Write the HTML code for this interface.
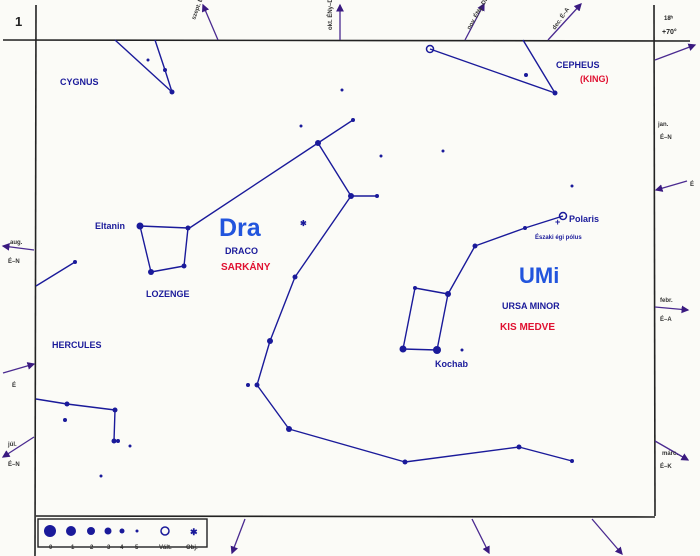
<!DOCTYPE html>
<html><head><meta charset="utf-8"><style>
html,body{margin:0;padding:0;background:#fbfbf7;}
svg{display:block;}
text{font-family:"Liberation Sans",sans-serif;font-weight:bold;}
</style></head><body>
<svg width="700" height="556" viewBox="0 0 700 556" xmlns="http://www.w3.org/2000/svg">
<rect width="700" height="556" fill="#fbfbf7"/>
<defs><marker id="a" markerWidth="6" markerHeight="6" refX="5" refY="3" orient="auto"><path d="M0,0 L6,3 L0,6 Z" fill="#3a1a80"/></marker></defs>
<g stroke="#222" stroke-width="1.6" fill="none">
<line x1="3" y1="40" x2="690" y2="41"/>
<line x1="36" y1="5" x2="35" y2="556"/>
<line x1="654" y1="5" x2="655" y2="516"/>
<line x1="36" y1="516" x2="655" y2="517"/>
<rect x="38" y="519" width="169" height="28" stroke-width="1.4"/>
</g>
<text x="15" y="26" font-size="13" fill="#222">1</text>
<text x="664" y="20" font-size="6" fill="#222">18ʰ</text>
<text x="662" y="34" font-size="7" fill="#222">+70°</text>
<g stroke="#4a2a90" stroke-width="1.3" marker-end="url(#a)">
<line x1="218" y1="40" x2="203" y2="5"/>
<line x1="340" y1="40" x2="340" y2="5"/>
<line x1="465" y1="40" x2="484" y2="4"/>
<line x1="548" y1="40" x2="581" y2="4"/>
<line x1="655" y1="60" x2="695" y2="45"/>
<line x1="687" y1="181" x2="656" y2="190"/>
<line x1="655" y1="307" x2="688" y2="310"/>
<line x1="655" y1="441" x2="688" y2="460"/>
<line x1="34" y1="250" x2="3" y2="246"/>
<line x1="3" y1="373" x2="34" y2="364"/>
<line x1="34" y1="437" x2="3" y2="457"/>
<line x1="245" y1="519" x2="232" y2="553"/>
<line x1="472" y1="519" x2="489" y2="553"/>
<line x1="592" y1="519" x2="622" y2="554"/>
</g>
<g fill="#333" font-size="6">
<text x="195" y="20" transform="rotate(-70 195 20)">szept. ÉD–DNy</text>
<text x="332" y="30" transform="rotate(-90 332 30)">okt. ÉNy–DK</text>
<text x="470" y="30" transform="rotate(-60 470 30)">nov. ÉNy–DK</text>
<text x="555" y="30" transform="rotate(-55 555 30)">dec. É–A</text>
<text x="658" y="126">jan.</text><text x="660" y="139">É–N</text>
<text x="690" y="186">É</text>
<text x="660" y="302">febr.</text><text x="660" y="321">É–A</text>
<text x="662" y="455">márc.</text><text x="660" y="468">É–K</text>
<text x="10" y="244">aug.</text><text x="8" y="263">É–N</text>
<text x="12" y="387">É</text>
<text x="8" y="446">júl.</text><text x="8" y="466">É–N</text>
</g>
<g stroke="#1a1a9a" stroke-width="1.4" fill="none" stroke-linejoin="round">
<polyline points="115,40 172,92"/>
<polyline points="155,40 165,70 172,92"/>
<polyline points="430,49 555,93 523,40"/>
<polyline points="353,120 318,143 188,229"/>
<polyline points="140,226 188,228 184,266 151,272 140,226"/>
<polyline points="318,143 351,196 377,196"/>
<polyline points="351,196 295,277 270,341 257,385 289,429 405,462 519,447 572,461"/>
<polyline points="563,216 525,228 475,246 448,294 437,350 403,349 415,288 448,294"/>
<polyline points="36,399 67,404 115,410 114,441"/>
<polyline points="75,262 36,286"/>
</g>
<g fill="#1a1a9a">
<circle cx="172" cy="92" r="2.5"/><circle cx="165" cy="70" r="2"/><circle cx="148" cy="60" r="1.5"/>
<circle cx="555" cy="93" r="2.5"/><circle cx="526" cy="75" r="2"/>
<circle cx="353" cy="120" r="2"/><circle cx="318" cy="143" r="3"/><circle cx="301" cy="126" r="1.5"/>
<circle cx="351" cy="196" r="3"/><circle cx="377" cy="196" r="2"/>
<circle cx="140" cy="226" r="3.5"/><circle cx="188" cy="228" r="2.5"/><circle cx="184" cy="266" r="2.5"/><circle cx="151" cy="272" r="3"/>
<circle cx="295" cy="277" r="2.5"/><circle cx="270" cy="341" r="3"/><circle cx="257" cy="385" r="2.5"/><circle cx="248" cy="385" r="2"/>
<circle cx="289" cy="429" r="3"/><circle cx="405" cy="462" r="2.5"/><circle cx="519" cy="447" r="2.5"/><circle cx="572" cy="461" r="2"/>
<circle cx="525" cy="228" r="2"/><circle cx="475" cy="246" r="2.5"/><circle cx="448" cy="294" r="3"/>
<circle cx="437" cy="350" r="4"/><circle cx="403" cy="349" r="3.5"/><circle cx="415" cy="288" r="2"/>
<circle cx="67" cy="404" r="2.5"/><circle cx="115" cy="410" r="2.5"/><circle cx="114" cy="441" r="2.5"/><circle cx="118" cy="441" r="2"/>
<circle cx="75" cy="262" r="2"/>
<circle cx="342" cy="90" r="1.5"/><circle cx="381" cy="156" r="1.5"/><circle cx="443" cy="151" r="1.5"/><circle cx="572" cy="186" r="1.5"/>
<circle cx="130" cy="446" r="1.5"/><circle cx="101" cy="476" r="1.5"/><circle cx="462" cy="350" r="1.5"/><circle cx="65" cy="420" r="2"/>
</g>
<circle cx="430" cy="49" r="3.5" fill="none" stroke="#1a1a9a" stroke-width="1.5"/>
<circle cx="563" cy="216" r="3.5" fill="none" stroke="#1a1a9a" stroke-width="1.5"/>
<text x="300" y="226" font-size="8" fill="#1a1a9a">✱</text>
<text x="555" y="225" font-size="9" fill="#1a1a9a">+</text>
<g fill="#1a1a9a" font-size="9">
<text x="60" y="85">CYGNUS</text>
<text x="556" y="68">CEPHEUS</text>
<text x="95" y="229" font-weight="normal">Eltanin</text>
<text x="225" y="254">DRACO</text>
<text x="146" y="297">LOZENGE</text>
<text x="52" y="348">HERCULES</text>
<text x="502" y="309">URSA MINOR</text>
<text x="569" y="222" font-weight="normal">Polaris</text>
<text x="535" y="239" font-size="6">Északi égi pólus</text>
<text x="435" y="367" font-weight="normal">Kochab</text>
</g>
<text x="580" y="82" font-size="9" fill="#e01030">(KING)</text>
<text x="221" y="270" font-size="10" fill="#e01030">SARKÁNY</text>
<text x="500" y="330" font-size="10" fill="#e01030">KIS MEDVE</text>
<text x="219" y="236" font-size="25" fill="#2255dd" font-weight="bold">Dra</text>
<text x="519" y="283" font-size="22" fill="#2255dd">UMi</text>
<g fill="#1a1a9a">
<circle cx="50" cy="531" r="6"/><circle cx="71" cy="531" r="5"/><circle cx="91" cy="531" r="4"/><circle cx="108" cy="531" r="3.5"/><circle cx="122" cy="531" r="2.5"/><circle cx="137" cy="531" r="1.5"/>
</g>
<circle cx="165" cy="531" r="4" fill="none" stroke="#1a1a9a" stroke-width="1.5"/>
<text x="190" y="535" font-size="9" fill="#1a1a9a">✱</text>
<g font-size="6" fill="#333">
<text x="49" y="549">0</text><text x="71" y="549">1</text><text x="90" y="549">2</text><text x="107" y="549">3</text><text x="120" y="549">4</text><text x="135" y="549">5</text><text x="159" y="549">Vált.</text><text x="186" y="549">Obj.</text>
</g>
</svg>
</body></html>
